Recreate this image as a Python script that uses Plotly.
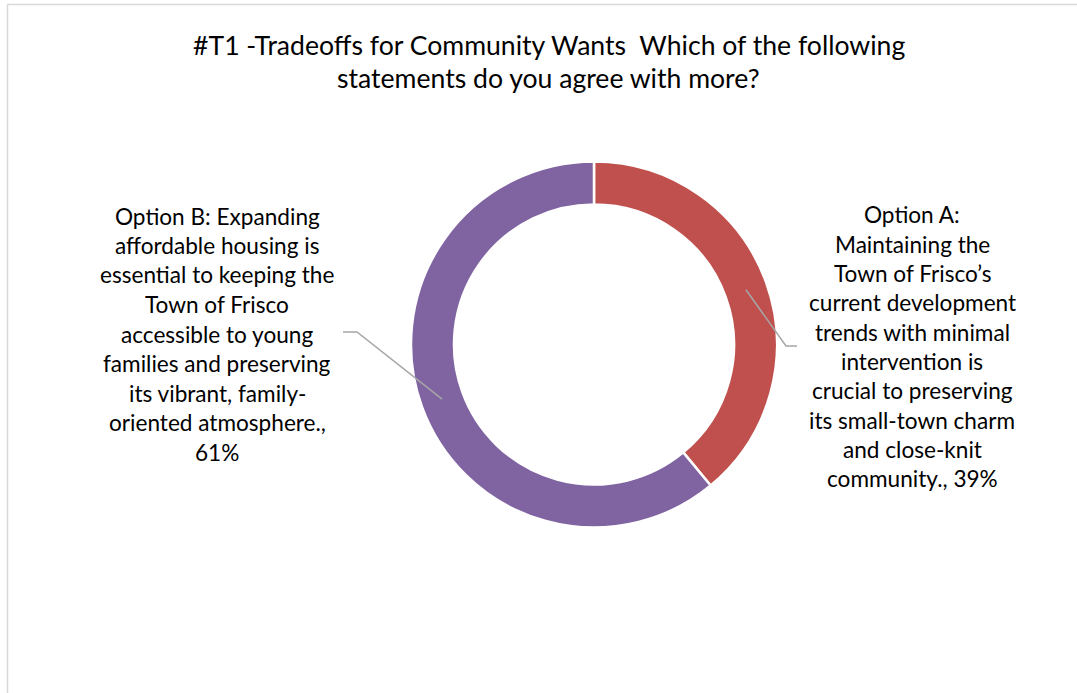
import math
import plotly.graph_objects as go

# Survey result data
categories = [
    "Option A: Maintaining the Town of Frisco’s current development trends with minimal intervention is crucial to preserving its small-town charm and close-knit community.",
    "Option B: Expanding affordable housing is essential to keeping the Town of Frisco accessible to young families and preserving its vibrant, family-oriented atmosphere.",
]
values = [39, 61]
colors = ["#C0504D", "#8064A2"]

title_lines = [
    "#T1 -Tradeoffs for Community Wants\u00a0 Which of the following",
    "statements do you agree with more?",
]
label_a_lines = [
    "Option A:", "Maintaining the", "Town of Frisco’s", "current development",
    "trends with minimal", "intervention is", "crucial to preserving",
    "its small-town charm", "and close-knit", "community., 39%",
]
label_b_lines = [
    "Option B: Expanding", "affordable housing is", "essential to keeping the",
    "Town of Frisco", "accessible to young", "families and preserving",
    "its vibrant, family-", "oriented atmosphere.,", "61%",
]

W, H = 1077, 693
FONT = "Lato"


def px(x):
    return x / W


def py(y):
    return 1 - y / H


# Donut geometry (pixels)
cx, cy, R_out, R_in = 594, 344.5, 183, 140

fig = go.Figure(
    go.Pie(
        labels=categories,
        values=values,
        marker=dict(colors=colors, line=dict(color="white", width=2.5)),
        hole=R_in / R_out,
        sort=False,
        direction="clockwise",
        rotation=0,
        textinfo="none",
        hoverinfo="label+percent",
        showlegend=False,
        domain=dict(x=[px(cx - R_out), px(cx + R_out)], y=[py(cy + R_out), py(cy - R_out)]),
    )
)

annotations = []
for i, t in enumerate(title_lines):
    annotations.append(dict(text=t, x=px(548.5), y=py(45 + i * 33), xref="paper", yref="paper",
                            showarrow=False, xanchor="center", yanchor="middle",
                            font=dict(family=FONT, size=26.6, color="#000000")))
for i, t in enumerate(label_a_lines):
    annotations.append(dict(text=t, x=px(912), y=py(215 + i * 29.3), xref="paper", yref="paper",
                            showarrow=False, xanchor="center", yanchor="middle",
                            font=dict(family=FONT, size=22.6, color="#000000")))
for i, t in enumerate(label_b_lines):
    annotations.append(dict(text=t, x=px(217), y=py(216 + i * 29.5), xref="paper", yref="paper",
                            showarrow=False, xanchor="center", yanchor="middle",
                            font=dict(family=FONT, size=22.6, color="#000000")))

# Leader lines start at the middle of each ring segment
total = sum(values)
r_mid = (R_in + R_out) / 2
cum = 0
starts = []
for v in values:
    frac_mid = (cum + v / 2) / total
    ang = math.radians(90 - frac_mid * 360)
    starts.append((cx + r_mid * math.cos(ang), cy - r_mid * math.sin(ang)))
    cum += v

leaders = [
    [starts[0], (786, 346), (797, 346)],
    [starts[1], (357, 332), (343, 332)],
]
shapes = []
for pts in leaders:
    path = "M " + " L ".join(f"{px(x)},{py(y)}" for x, y in pts)
    shapes.append(dict(type="path", path=path, xref="paper", yref="paper",
                       line=dict(color="#A6A6A6", width=1.5)))

# Chart frame
shapes.append(dict(type="rect", xref="paper", yref="paper", x0=px(7.5), y0=py(4.5), x1=px(1090), y1=py(710),
                   line=dict(color="#D9D9D9", width=1.5), fillcolor="rgba(0,0,0,0)", layer="below"))

fig.update_layout(
    width=W, height=H,
    margin=dict(l=0, r=0, t=0, b=0),
    paper_bgcolor="white", plot_bgcolor="white",
    annotations=annotations,
    shapes=shapes,
)

fig.write_html("out.html")
